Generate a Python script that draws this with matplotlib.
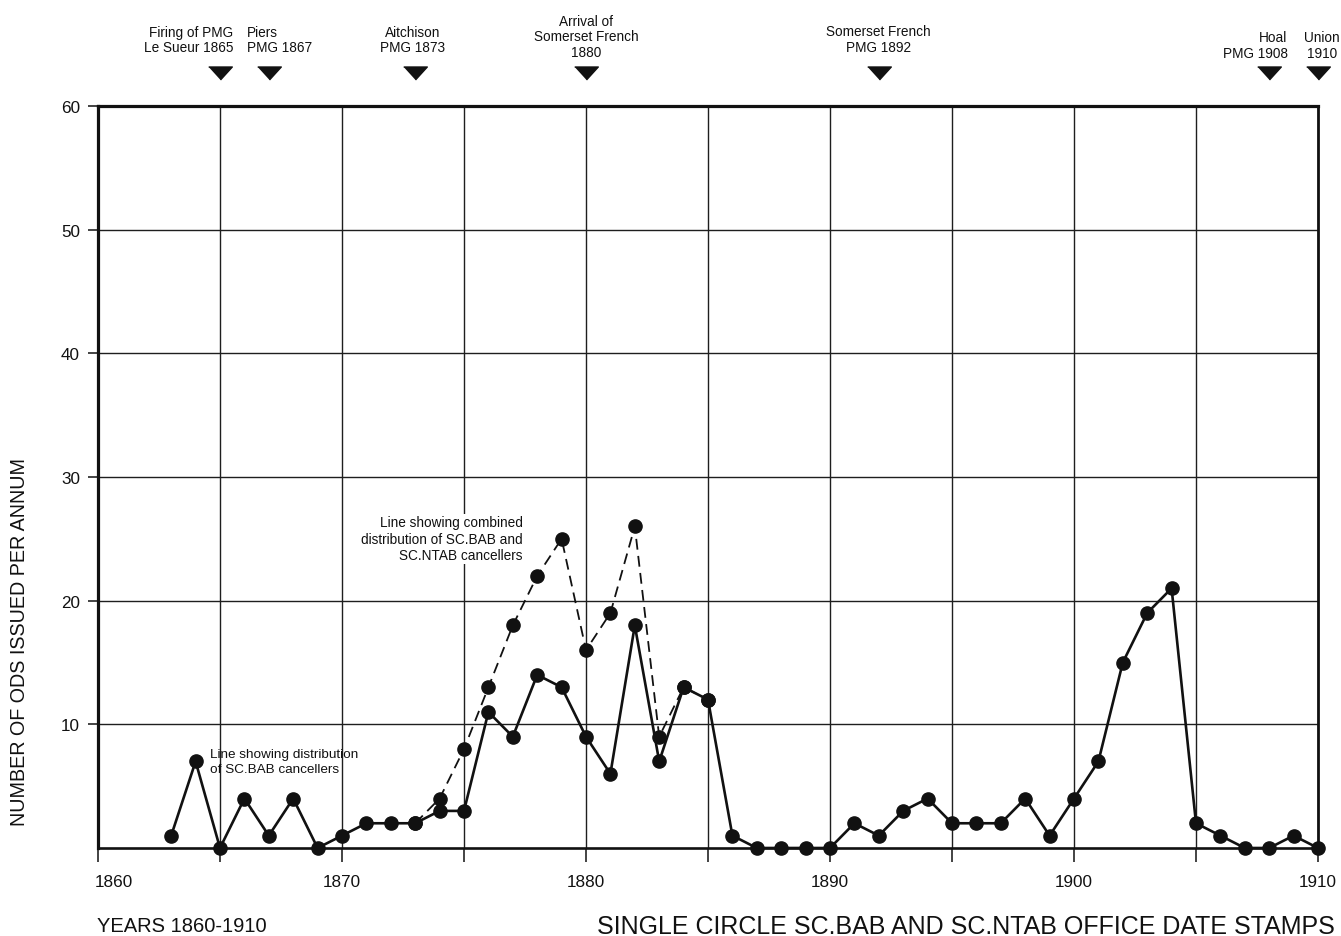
import matplotlib
matplotlib.use("Agg")
import matplotlib.pyplot as plt
from matplotlib.transforms import blended_transform_factory, ScaledTranslation

plt.rcParams['font.family'] = ['Liberation Sans', 'DejaVu Sans']

# Single circle SC.BAB office date stamps issued per year
bab_years = list(range(1863, 1911))
bab_counts = [1, 7, 0, 4, 1, 4, 0, 1, 2, 2, 2, 3, 3, 11, 9, 14, 13, 9, 6, 18,
              7, 13, 12, 1, 0, 0, 0, 0, 2, 1, 3, 4, 2, 2, 2, 4, 1, 4, 7, 15,
              19, 21, 2, 1, 0, 0, 1, 0]

# Combined SC.BAB + SC.NTAB stamps per year
combined_years = list(range(1873, 1886))
combined_counts = [2, 4, 8, 13, 18, 22, 25, 16, 19, 26, 9, 13, 12]

# Historical events marked along the top
event_years = [1865, 1867, 1873, 1880, 1892, 1908, 1910]
event_labels = ["Firing of PMG\nLe Sueur 1865", "Piers\nPMG 1867",
                "Aitchison\nPMG 1873", "Arrival of\nSomerset French\n1880",
                "Somerset French\nPMG 1892", "Hoal\nPMG 1908", "Union\n1910"]

x_major = list(range(1860, 1911, 5))
y_ticks = [10, 20, 30, 40, 50, 60]

W, H = 1341, 937
fig = plt.figure(figsize=(W / 100, H / 100), dpi=100)
ax = fig.add_axes([98 / W, 1 - 849 / H, (1318 - 98) / W, (849 - 107) / H])

ink = '#111111'

ax.set_xlim(1860, 1910)
ax.set_ylim(0, 60)
ax.set_xticks(x_major)
ax.set_xticklabels([str(x) if x % 10 == 0 else '' for x in x_major])
ax.set_yticks(y_ticks)
ax.set_yticklabels([str(y) for y in y_ticks])
ax.tick_params(axis='x', length=10, width=1.1, direction='out', pad=9,
               labelsize=12.3, colors=ink)
ax.tick_params(axis='y', length=7, width=1.1, direction='out', pad=6,
               labelsize=12.3, colors=ink)
# first year label sits just right of the corner
first = ax.get_xticklabels()[0]
first.set_transform(first.get_transform()
                    + ScaledTranslation(16 / 100, 0, fig.dpi_scale_trans))
ax.grid(True, color='#1e1e1e', lw=1.0)
ax.set_axisbelow(True)

for side, lw in [('top', 2.3), ('left', 2.3), ('bottom', 1.9), ('right', 2.0)]:
    ax.spines[side].set_linewidth(lw)
    ax.spines[side].set_color(ink)

# combined distribution (dashed) then SC.BAB (solid) on top
ax.plot(combined_years, combined_counts, color=ink, lw=1.3, dashes=(6, 3.5),
        marker='o', ms=9.5, mfc=ink, mec=ink, clip_on=False, zorder=3)
ax.plot(bab_years, bab_counts, color=ink, lw=1.9, marker='o', ms=9.5,
        mfc=ink, mec=ink, clip_on=False, zorder=4)

ax.text(1864.6, 7.0, "Line showing distribution\nof SC.BAB cancellers",
        fontsize=9.7, ha='left', va='center', color=ink, linespacing=1.4)
ax.text(1877.4, 25.0,
        "Line showing combined\ndistribution of SC.BAB and\nSC.NTAB cancellers",
        fontsize=9.8, ha='right', va='center', multialignment='right',
        color=ink, linespacing=1.22, zorder=5,
        bbox=dict(facecolor='white', edgecolor='none', pad=1))

# event markers above the plot
trans = blended_transform_factory(ax.transData, ax.transAxes)
tri = [(-1, 0.55), (1, 0.55), (0, -0.55)]
ax.plot(event_years, [1.0445] * len(event_years), linestyle='none',
        marker=tri, ms=17, color=ink, transform=trans, clip_on=False)

label_layout = [  # (x, y in axes fraction, ha)
    (1865.55, 1.0895, 'right'),
    (1866.1, 1.0895, 'left'),
    (1872.9, 1.0895, 'center'),
    (1880.0, 1.094, 'center'),
    (1892.0, 1.090, 'center'),
    (1908.75, 1.0825, 'right'),
    (1910.15, 1.0825, 'center'),
]
for text, (lx, ly, ha) in zip(event_labels, label_layout):
    ax.text(lx, ly, text, transform=trans, fontsize=9.8, ha=ha, va='center',
            multialignment=ha, color=ink, linespacing=1.15, clip_on=False)

fig.text(20 / W, 1 - 642 / H, "NUMBER OF ODS ISSUED PER ANNUM",
         rotation=90, ha='center', va='center', fontsize=14.2, color=ink)
fig.text(97 / W, 1 - 927 / H, "YEARS 1860-1910", ha='left', va='center',
         fontsize=14.5, color=ink)
fig.text(1335 / W, 1 - 927 / H,
         "SINGLE CIRCLE SC.BAB AND SC.NTAB OFFICE DATE STAMPS",
         ha='right', va='center', fontsize=18.0, color=ink)

fig.savefig("out.png", dpi=100, facecolor='white')
